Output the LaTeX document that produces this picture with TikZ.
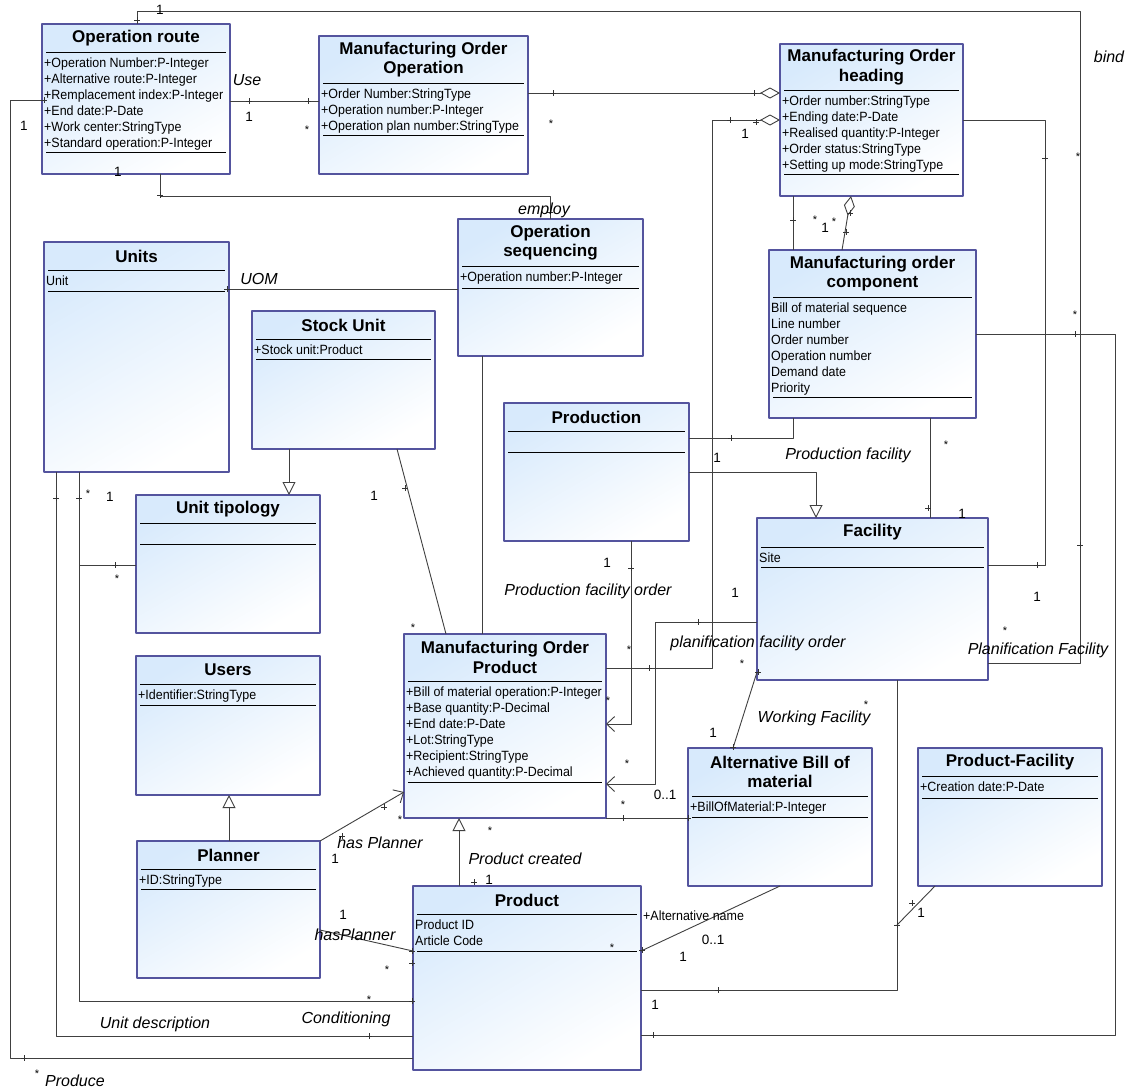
\documentclass[tikz,border=0pt]{standalone}
\usepackage{fontspec}
\setmainfont{Liberation Sans}
\newfontfamily\attrfamily{Liberation Sans}[FakeStretch=0.93]
\usetikzlibrary{arrows.meta, positioning}

\definecolor{umlborder}{RGB}{84,84,158}
\definecolor{umlfill}{RGB}{216,234,252}

\newcommand\clstitlefont{\fontsize{17}{19.5}\selectfont\bfseries}
\newcommand\clsattrfont{\attrfamily\fontsize{13.4}{16}\selectfont}
\newcommand\assocfont{\fontsize{16}{18}\selectfont\itshape}
\newcommand\multfont{\fontsize{13.5}{15}\selectfont}
\newcommand\manyfont{\fontsize{11}{11}\selectfont}

% name, x, y, width, height, title, first rule, attributes, second rule
\newcommand\umlclass[9]{%
  \node[classbox, minimum width=#4pt, minimum height=#5pt] (#1) at (#2,#3) {};
  \node[classtitle] (#1-title) at (#2+#4/2,#3/2+#7/2) {#6};
  \draw[classline] (#2+4,#7) -- (#2+#4-4,#7);
  \node[classattr] (#1-attrs) at (#2+2,#7+5.5) {#8};
  \draw[classline] (#2+4,#9) -- (#2+#4-4,#9);
}
\newcommand\roletick[2]{\draw[tickline] (#1-3,#2) -- (#1+3,#2) (#1,#2-3) -- (#1,#2+3);}

\begin{document}
\begin{tikzpicture}[x=1pt, y=-1pt, line join=bevel,
    classbox/.style={draw=umlborder, line width=1.2pt, top color=umlfill, bottom color=white,
      shading angle=30, inner sep=0pt, outer sep=0pt, anchor=north west},
    classtitle/.style={font=\clstitlefont, align=center, inner sep=0pt},
    classattr/.style={font=\clsattrfont, align=left, inner sep=0pt, anchor=north west},
    classline/.style={line width=0.9pt},
    conn/.style={line width=0.9pt, black!75},
    tickline/.style={line width=0.8pt, draw=black!80},
    assoc/.style={font=\assocfont, inner sep=0pt},
    mult/.style={font=\multfont, inner sep=0pt},
    many/.style={font=\manyfont, inner sep=0pt},
    gen/.style={-{Triangle[open, length=13pt, width=13pt, fill=white]}},
    nav/.style={-{Straight Barb[length=8pt, width=15pt]}},
    agg/.style={{Diamond[open, length=20pt, width=11pt, fill=white]}-}]
  \fill[white] (0,0) rectangle (1131,1088);
  \useasboundingbox (0,0) rectangle (1131,1088);
  %
  \umlclass{opRoute}{42}{24}{188}{150}{Operation route}{52}{+Operation Number:P-Integer\\+Alternative route:P-Integer\\+Remplacement index:P-Integer\\+End date:P-Date\\+Work center:StringType\\+Standard operation:P-Integer}{152}
  \umlclass{moOperation}{319}{36}{209}{138}{Manufacturing Order\\Operation}{83}{+Order Number:StringType\\+Operation number:P-Integer\\+Operation plan number:StringType}{135}
  \umlclass{moHeading}{780}{44}{183}{152}{Manufacturing Order\\heading}{90}{+Order number:StringType\\+Ending date:P-Date\\+Realised quantity:P-Integer\\+Order status:StringType\\+Setting up mode:StringType}{174}
  \umlclass{units}{44}{242}{185}{230}{Units}{270}{Unit}{291}
  \umlclass{opSeq}{458}{219}{185}{137}{Operation\\sequencing}{266}{+Operation number:P-Integer}{288}
  \umlclass{stockUnit}{252}{311}{183}{138}{Stock Unit}{339}{+Stock unit:Product}{359}
  \umlclass{moComponent}{769}{250}{207}{168}{Manufacturing order\\component}{297}{Bill of material sequence\\Line number\\Order number\\Operation number\\Demand date\\Priority}{397}
  \umlclass{production}{504}{403}{185}{138}{Production}{431}{}{452}
  \umlclass{unitTipology}{136}{495}{184}{138}{Unit tipology}{523}{}{544}
  \umlclass{facility}{757}{518}{231}{162}{Facility}{547}{Site}{567}
  \umlclass{users}{136}{656}{184}{139}{Users}{684}{+Identifier:StringType}{705}
  \umlclass{moProduct}{404}{634}{202}{184}{Manufacturing Order\\Product}{681}{+Bill of material operation:P-Integer\\+Base quantity:P-Decimal\\+End date:P-Date\\+Lot:StringType\\+Recipient:StringType\\+Achieved quantity:P-Decimal}{782}
  \umlclass{altBom}{688}{748}{184}{138}{Alternative Bill of\\material}{796}{+BillOfMaterial:P-Integer}{817}
  \umlclass{prodFacility}{918}{748}{184}{138}{Product-Facility}{776}{+Creation date:P-Date}{798}
  \umlclass{planner}{137}{841}{183}{137}{Planner}{869}{+ID:StringType}{889}
  \umlclass{product}{413}{886}{228}{184}{Product}{914}{Product ID\\Article Code}{951}
  %
  \path[conn] (opRoute.east |- 0,101) edge (moOperation.west |- 0,101);
  \draw[conn] (opRoute.north -| 137,0) |- (1080,11) |- (facility.east |- 0,663);
  \draw[conn] (opRoute.south -| 160,0) -- (160,196) -| (opSeq.north -| 550,0);
  \draw[conn] (opRoute.west |- 0,100) -| (10,1058) -- (product.west |- 0,1058);
  \path[conn, agg] (moHeading.west |- 0,93) edge (moOperation.east |- 0,93);
  \draw[conn, agg] (moHeading.west |- 0,120) -| (712,668) -- (moProduct.east |- 0,668);
  \draw[conn] (moHeading.east |- 0,120) -| (1045,565) -- (facility.east |- 0,565);
  \path[conn] (moHeading.south -| 793,0) edge (moComponent.north -| 793,0);
  \path[conn, agg] (moHeading.south -| 851,0) edge (moComponent.north -| 842,0);
  \draw[conn] (moComponent.east |- 0,334) -| (1115,1035) -- (product.east |- 0,1035);
  \path[conn] (moComponent.south -| 930,0) edge (facility.north -| 930,0);
  \draw[conn] (production.east |- 0,438) -| (moComponent.south -| 793,0);
  \draw[conn, gen] (production.east |- 0,472) -| (facility.north -| 816,0);
  \draw[conn, nav] (production.south -| 631,0) |- (moProduct.east |- 0,724);
  \draw[conn, nav] (facility.west |- 0,622) -| (655,784) -- (moProduct.east |- 0,784);
  \path[conn] (altBom.north -| 733,0) edge (facility.west |- 0,672);
  \path[conn] (moProduct.east |- 0,818) edge (altBom.west |- 0,818);
  \path[conn] (altBom.south -| 780,0) edge (product.east |- 0,951);
  \draw[conn] (facility.south -| 897,0) |- (product.east |- 0,990);
  \coordinate (pfLink) at (897,925);
  \path[conn] (prodFacility.south -| 935,0) edge (pfLink);
  \path[conn] (units.east |- 0,289) edge (opSeq.west |- 0,289);
  \path[conn] (opSeq.south -| 482,0) edge (moProduct.north -| 482,0);
  \path[conn, gen] (stockUnit.south -| 289,0) edge (unitTipology.north -| 289,0);
  \path[conn] (stockUnit.south -| 397,0) edge (moProduct.north -| 446,0);
  \path[conn, gen] (planner.north -| 229,0) edge (users.south -| 229,0);
  \path[conn, nav] (planner.north east) edge (moProduct.west |- 0,792);
  \path[conn] (planner.east |- 0,930) edge (product.west |- 0,951);
  \path[conn, gen] (product.north -| 459,0) edge (moProduct.south -| 459,0);
  \draw[conn] (units.south -| 56,0) |- (product.west |- 0,1036);
  \draw[conn] (units.south -| 79,0) |- (product.west |- 0,1001);
  \coordinate (tipLink) at (79,565);
  \path[conn] (unitTipology.west |- 0,565) edge (tipLink);
  %
  \roletick{137}{20} \roletick{1080}{545} \roletick{249}{101} \roletick{308}{101}
  \roletick{160}{195} \roletick{550}{212} \roletick{553}{93} \roletick{754}{93}
  \roletick{730}{120} \roletick{756}{122} \roletick{649}{668} \roletick{1045}{158}
  \roletick{1037}{565} \roletick{793}{220} \roletick{850}{213} \roletick{846}{232}
  \roletick{1075}{334} \roletick{731}{438} \roletick{631}{568} \roletick{698}{622}
  \roletick{928}{508} \roletick{733}{747} \roletick{758}{672} \roletick{623}{818}
  \roletick{688}{818} \roletick{718}{990} \roletick{897}{925} \roletick{912}{903}
  \roletick{653}{1035} \roletick{44}{100} \roletick{24}{1058} \roletick{56}{498}
  \roletick{369}{1036} \roletick{79}{498} \roletick{412}{1001} \roletick{115}{565}
  \roletick{405}{488} \roletick{342}{836} \roletick{384}{807} \roletick{412}{951}
  \roletick{474}{882} \roletick{227}{289} \roletick{642}{950} \roletick{412}{963}
  %
  \node[assoc] (useL) at (247,80) {Use};
  \node[assoc] (employL) at (544,210) {employ};
  \node[assoc] (bindL) at (1109,57) {bind};
  \node[assoc] (uomL) at (259,279) {UOM};
  \node[assoc] (prodFacL) at (848,455) {Production facility};
  \node[assoc] (prodOrderL) at (588,591) {Production facility order};
  \node[assoc] (planOrderL) at (758,643) {planification facility order};
  \node[assoc] (planFacL) at (1038,650) {Planification Facility};
  \node[assoc] (workFacL) at (814,718) {Working Facility};
  \node[assoc] (hasPlannerL) at (380,843) {has Planner};
  \node[assoc] (prodCreatedL) at (525,859) {Product created};
  \node[assoc] (hasPlannerBL) at (355,935) {hasPlanner};
  \node[assoc] (unitDescL) at (155,1024) {Unit description};
  \node[assoc] (condL) at (346,1019) {Conditioning};
  \node[assoc] (produceL) at (75,1081) {Produce};
  \node[classattr, anchor=west] (altNameL) at (643,916) {+Alternative name};
  %
  \node[mult] (m1) at (160,10) {1};
  \node[mult] (m2) at (24,126) {1};
  \node[mult] (m3) at (249,117) {1};
  \node[many] (m4) at (307,130) {*};
  \node[mult] (m5) at (118,172) {1};
  \node[many] (m6) at (551,124) {*};
  \node[mult] (m7) at (745,134) {1};
  \node[many] (m8) at (815,220) {*};
  \node[mult] (m9) at (825,228) {1};
  \node[many] (m10) at (834,222) {*};
  \node[many] (m11) at (1078,157) {*};
  \node[many] (m12) at (1075,315) {*};
  \node[mult] (m13) at (717,458) {1};
  \node[many] (m14) at (946,445) {*};
  \node[mult] (m15) at (962,514) {1};
  \node[mult] (m16) at (607,563) {1};
  \node[mult] (m17) at (735,593) {1};
  \node[mult] (m18) at (1037,597) {1};
  \node[many] (m19) at (1005,631) {*};
  \node[many] (m20) at (413,628) {*};
  \node[mult] (m21) at (374,496) {1};
  \node[many] (m22) at (88,494) {*};
  \node[mult] (m23) at (110,497) {1};
  \node[many] (m24) at (117,579) {*};
  \node[many] (m25) at (629,650) {*};
  \node[many] (m26) at (608,701) {*};
  \node[many] (m27) at (742,664) {*};
  \node[many] (m28) at (866,705) {*};
  \node[mult] (m29) at (713,733) {1};
  \node[many] (m30) at (627,764) {*};
  \node[mult] (m31) at (665,795) {0..1};
  \node[many] (m32) at (623,805) {*};
  \node[many] (m33) at (400,820) {*};
  \node[many] (m34) at (490,831) {*};
  \node[mult] (m35) at (335,859) {1};
  \node[mult] (m36) at (489,880) {1};
  \node[mult] (m37) at (343,915) {1};
  \node[many] (m38) at (387,970) {*};
  \node[many] (m39) at (612,948) {*};
  \node[mult] (m40) at (683,957) {1};
  \node[mult] (m41) at (713,940) {0..1};
  \node[mult] (m42) at (921,913) {1};
  \node[mult] (m43) at (655,1005) {1};
  \node[many] (m44) at (369,1000) {*};
  \node[many] (m45) at (37,1074) {*};
\end{tikzpicture}
\end{document}
